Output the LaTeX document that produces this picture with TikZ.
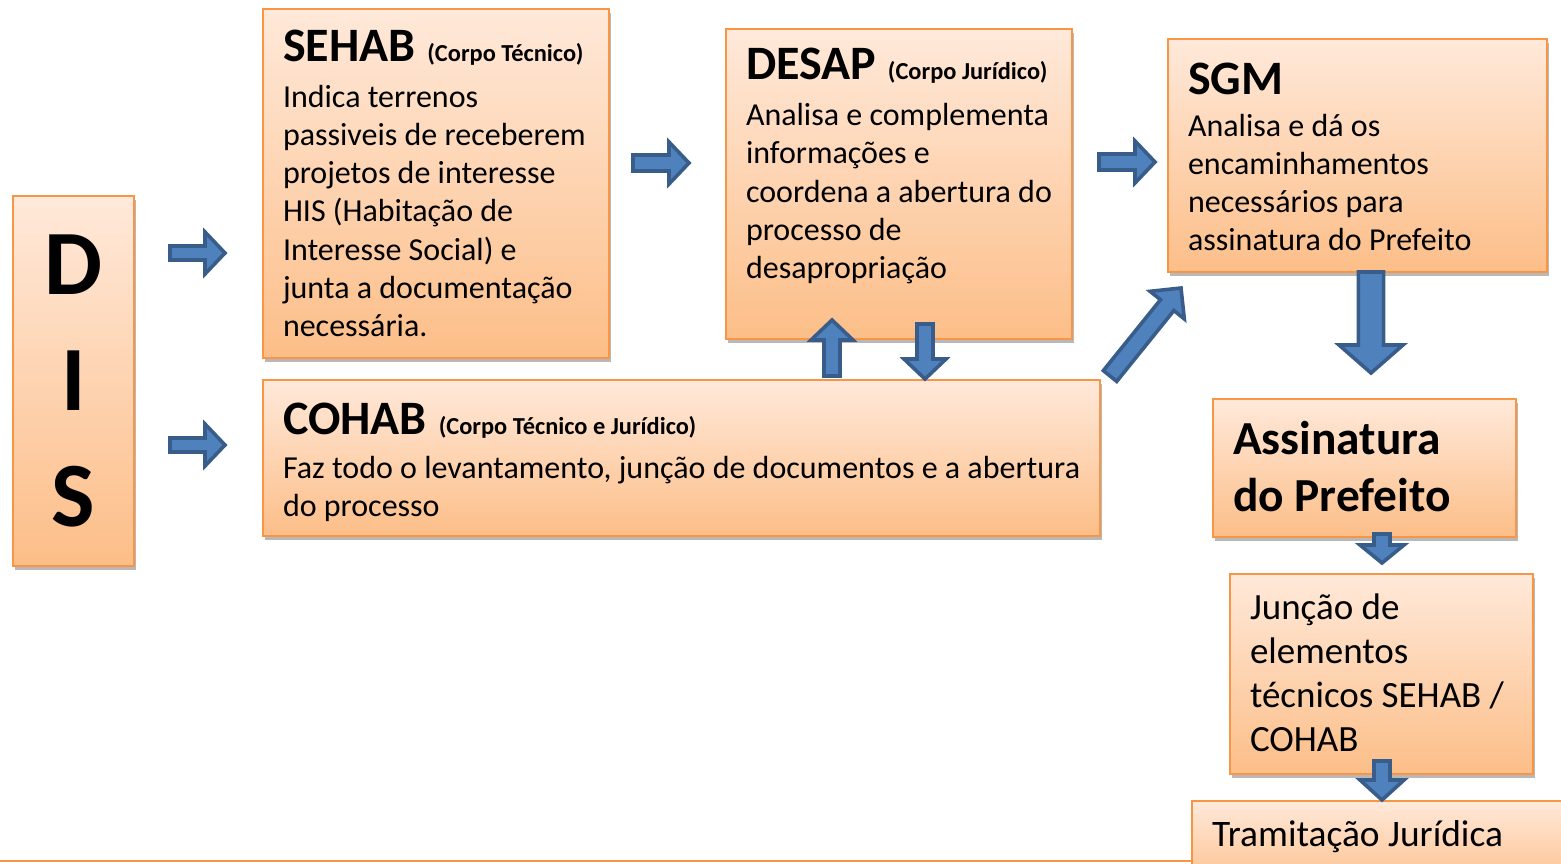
\documentclass[tikz,border=0pt]{standalone}
\usepackage{fontspec}
\setmainfont{Carlito}
\usetikzlibrary{calc,shadows}
\definecolor{boxtop}{HTML}{FFE9DA}
\definecolor{boxbot}{HTML}{FCBE88}
\definecolor{boxline}{HTML}{F79646}
\definecolor{arrfill}{HTML}{4F81BD}
\definecolor{arrline}{HTML}{385D8A}
\tikzset{
  flowbox/.style={draw=boxline, line width=1pt, top color=boxtop, bottom color=boxbot,
    inner sep=0pt, anchor=north west,
    drop shadow={shadow xshift=0.8pt, shadow yshift=-2pt, opacity=0.28, fill=black}},
  blockarrow/.style={draw=arrline, fill=arrfill, line width=1.8pt, line join=miter}
}
% box content: height, width, top-to-first-baseline, content
\newcommand\bxc[4]{\parbox[c][#1][t]{#2}{\parindent=0pt\leftskip=10pt\rightskip=-30pt plus 1fil\relax\vspace*{#3}#4\par}}
\newcommand\bodyf{\fontsize{16}{19.15}\selectfont}
\newcommand\titf{\fontsize{24}{24}\selectfont\bfseries}
\newcommand\subf{\fontsize{12.2}{12.2}\selectfont\bfseries}
% block arrow from named coordinate #1 to #2: shaft half width, head half width, head length
\newcommand\blockarr[5]{%
  \coordinate (#1-#2-neck) at ($(#2)!#5!(#1)$);
  \draw[blockarrow] ($(#1)!#3!90:(#2)$) -- ($(#1-#2-neck)!#3!90:(#2)$) -- ($(#1-#2-neck)!#4!90:(#2)$)
    -- (#2) -- ($(#1-#2-neck)!#4!-90:(#2)$) -- ($(#1-#2-neck)!#3!-90:(#2)$) -- ($(#1)!#3!-90:(#2)$) -- cycle;}
\begin{document}
\begin{tikzpicture}[x=0.5pt,y=-0.5pt]
\useasboundingbox (0,0) rectangle (1561,863);

% DIS
\node[flowbox] (dis) at (12,195) {\parbox[c][185pt][t]{60.5pt}{\centering\fontsize{46}{58}\selectfont\bfseries\vspace*{49pt}\smash{D}\par I\par S\par}};

% SEHAB
\node[flowbox] (sehab) at (262,8) {\bxc{174.5pt}{173pt}{26pt}{%
  \smash{{\titf SEHAB}\hspace{6pt}{\subf (Corpo Técnico)}}\par
  \vspace{3.85pt}\bodyf Indica terrenos\\ passiveis de receberem\\ projetos de interesse\\ HIS (Habitação de\\ Interesse Social) e\\ junta a documentação\\ necessária.}};

% DESAP
\node[flowbox] (desap) at (725,28) {\bxc{155pt}{173pt}{25pt}{%
  \smash{{\titf DESAP}\hspace{6pt}{\subf (Corpo Jurídico)}}\par
  \vspace{4.1pt}\bodyf Analisa e complementa\\ informações e\\ coordena a abertura do\\ processo de\\ desapropriação}};

% SGM
\node[flowbox] (sgm) at (1167,38) {\bxc{116.5pt}{189.5pt}{27.5pt}{%
  \smash{\titf SGM}\par
  \vspace{1.85pt}\bodyf Analisa e dá os\\ encaminhamentos\\ necessários para\\ assinatura do Prefeito}};

% COHAB
\node[flowbox] (cohab) at (262,379) {\bxc{78pt}{418.5pt}{27pt}{%
  \smash{{\titf COHAB}\hspace{6pt}{\subf (Corpo Técnico e Jurídico)}}\par
  \vspace{2.85pt}\bodyf Faz todo o levantamento, junção de documentos e a abertura\\ do processo}};

% Assinatura
\node[flowbox] (assin) at (1212,398) {\bxc{69pt}{151.5pt}{27.5pt}{%
  \fontsize{23.7}{28.5}\selectfont\bfseries \smash{Assinatura}\\ do Prefeito}};

% Juncao
\node[flowbox] (juncao) at (1229,573) {\bxc{100pt}{151.5pt}{22.5pt}{%
  \fontsize{18.5}{22.15}\selectfont \smash{Junção de}\\ elementos\\ técnicos SEHAB /\\ COHAB}};

% Tramitacao
\node[flowbox] (tramit) at (1191,800) {\bxc{45pt}{200pt}{22.5pt}{%
  \fontsize{18.7}{22.15}\selectfont \smash{Tramitação Jurídica}}};

% bottom edge line
\draw[boxline, line width=1pt] (0,861) -- (1191,861);

% arrow end points
\coordinate (a1s) at (170,253);  \coordinate (a1e) at (225,253);
\coordinate (a2s) at (170,445);  \coordinate (a2e) at (225,445);
\coordinate (a3s) at (633,163);  \coordinate (a3e) at (689,163);
\coordinate (a4s) at (1099,162); \coordinate (a4e) at (1155,162);
\coordinate (a5s) at (832,376);  \coordinate (a5e) at (832,320);
\coordinate (a6s) at (925,324);  \coordinate (a6e) at (925,379);
\coordinate (a7s) at (1110,376); \coordinate (a7e) at (1181,288);
\coordinate (a8s) at (1371,272); \coordinate (a8e) at (1371,373);
\coordinate (a9s) at (1382,534); \coordinate (a9e) at (1382,563);
\coordinate (a10s) at (1382,761); \coordinate (a10e) at (1382,800);

\blockarr{a1s}{a1e}{3.5pt}{10.5pt}{10pt}
\blockarr{a2s}{a2e}{3.5pt}{10.5pt}{10pt}
\blockarr{a3s}{a3e}{4pt}{10.5pt}{10pt}
\blockarr{a4s}{a4e}{4pt}{10.5pt}{10pt}
\blockarr{a5s}{a5e}{4pt}{10.5pt}{10pt}
\blockarr{a6s}{a6e}{4pt}{10.5pt}{10pt}
\blockarr{a7s}{a7e}{4.3pt}{11pt}{11pt}
\blockarr{a8s}{a8e}{6.3pt}{16pt}{14pt}
\blockarr{a9s}{a9e}{4pt}{11pt}{9pt}
\blockarr{a10s}{a10e}{4pt}{11pt}{10pt}
\end{tikzpicture}
\end{document}
